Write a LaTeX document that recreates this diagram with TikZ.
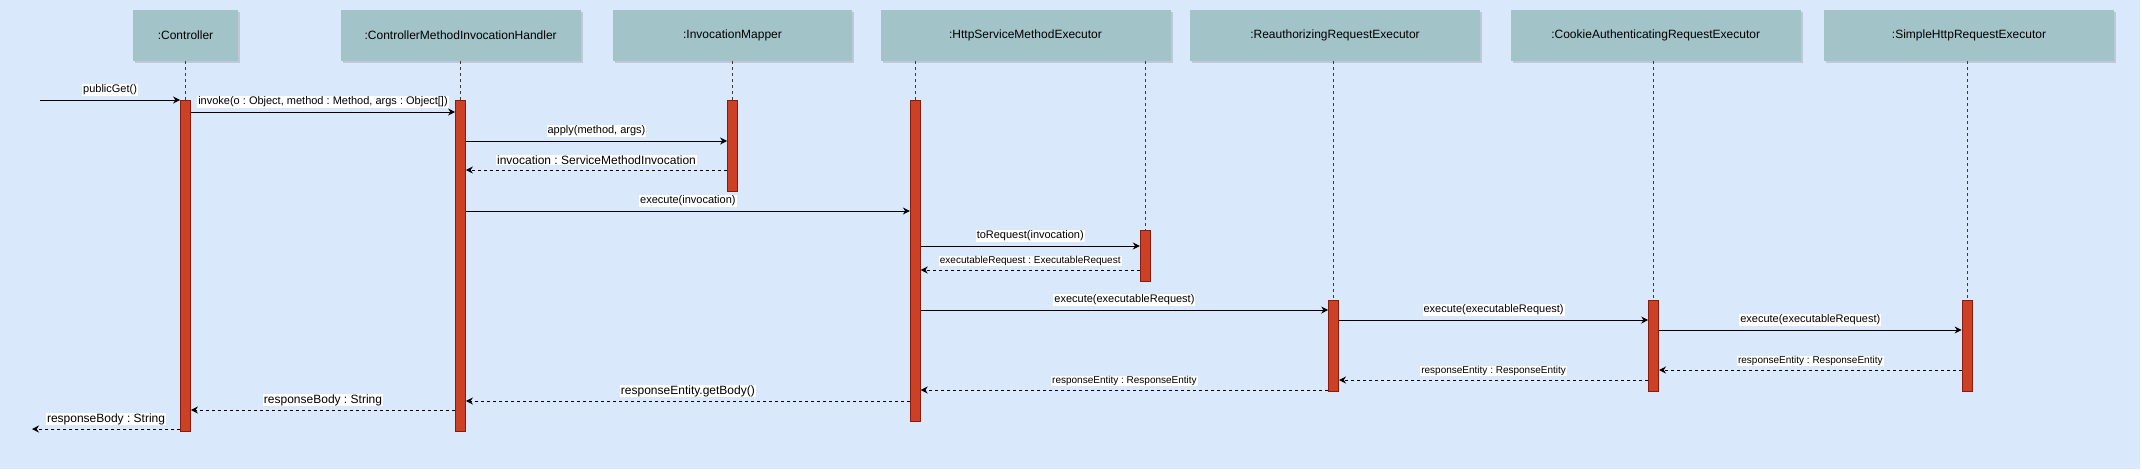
\documentclass[tikz,border=0pt]{standalone}
\usepackage{fontspec}
\setmainfont{Liberation Sans}
\usepackage{tikz}
\usetikzlibrary{arrows.meta,shadows}
\definecolor{canvas}{RGB}{218,232,252}
\definecolor{header}{RGB}{162,196,201}
\definecolor{activ}{RGB}{204,65,37}
\definecolor{activedge}{RGB}{135,28,12}
\definecolor{lifegray}{RGB}{60,60,60}
\frenchspacing

\begin{document}
\begin{tikzpicture}[x=1pt, y=-1pt,
  head/.style={fill=header, minimum height=51pt, inner sep=0pt, font=\fontsize{12}{14}\selectfont,
    drop shadow={shadow xshift=2pt, shadow yshift=-2pt, opacity=0.3, fill=gray}},
  act/.style={fill=activ, draw=activedge, line width=0.8pt, minimum width=10pt, inner sep=0pt},
  lifeline/.style={draw=lifegray, line width=0.9pt, dash pattern=on 3pt off 3pt},
  call/.style={-{Stealth[length=7pt, width=7pt]}, line width=0.9pt},
  ret/.style={call, dash pattern=on 3pt off 3pt},
  lbl/.style={fill=white, inner xsep=1pt, inner ysep=0.8pt, font=\fontsize{11}{13}\selectfont, yshift=10pt},
  lblsm/.style={lbl, font=\fontsize{10}{12}\selectfont, yshift=-1pt},
  lblbig/.style={lbl, font=\fontsize{12}{14}\selectfont}]
\useasboundingbox (0,0) rectangle (2142,475);
\fill[canvas] (0,0) rectangle (2140,469);
%% ---- participants ----
\node[head, minimum width=105pt] (ctl)    at (185.5,35.5)  {:Controller};
\node[head, minimum width=240pt] (cmih)   at (460.7,35.5)  {:ControllerMethodInvocationHandler};
\node[head, minimum width=239pt] (mapper) at (732.5,35.5)  {:InvocationMapper};
\node[head, minimum width=290pt] (hsme)   at (1025.5,35.5) {:HttpServiceMethodExecutor};
\node[head, minimum width=290pt] (reauth) at (1335,35.5)   {:ReauthorizingRequestExecutor};
\node[head, minimum width=290pt] (cookie) at (1655.7,35.5) {:CookieAuthenticatingRequestExecutor};
\node[head, minimum width=290pt] (simple) at (1969,35.5)   {:SimpleHttpRequestExecutor};
%% ---- activations ----
\node[act, minimum height=331pt] (aCtl)    at (185.5,265.5)  {};
\node[act, minimum height=331pt] (aCmih)   at (460.5,265.5)  {};
\node[act, minimum height=91pt]  (aMap)    at (732.5,145.5)  {};
\node[act, minimum height=321pt] (aHsme)   at (915.3,260.5)  {};
\node[act, minimum height=51pt]  (aReq)    at (1145.2,255.5) {};
\node[act, minimum height=91pt]  (aReauth) at (1333.6,345.5) {};
\node[act, minimum height=91pt]  (aCookie) at (1653.6,345.5) {};
\node[act, minimum height=91pt]  (aSimple) at (1967,345.5)   {};
%% ---- lifelines ----
\draw[lifeline] (aCtl.north |- ctl.south) -- (aCtl.north);
\draw[lifeline] (aCmih.north |- cmih.south) -- (aCmih.north);
\draw[lifeline] (aMap.north |- mapper.south) -- (aMap.north);
\draw[lifeline] (aHsme.north |- hsme.south) -- (aHsme.north);
\draw[lifeline] (aReq.north |- hsme.south) -- (aReq.north);
\draw[lifeline] (aReauth.north |- reauth.south) -- (aReauth.north);
\draw[lifeline] (aCookie.north |- cookie.south) -- (aCookie.north);
\draw[lifeline] (aSimple.north |- simple.south) -- (aSimple.north);
%% ---- calls ----
\coordinate (caller) at (40,100);
\draw[call] (caller) -- (aCtl.west |- caller) node[lbl, midway] {publicGet()};
\draw[call] (aCtl.east |- 0,112) -- (aCmih.west |- 0,112)
  node[lbl, midway] {invoke(o : Object, method : Method, args : Object[])};
\draw[call] (aCmih.east |- 0,141) -- (aMap.west |- 0,141) node[lbl, midway] {apply(method, args)};
\draw[ret] (aMap.west |- 0,170) -- (aCmih.east |- 0,170)
  node[lblbig, midway] {invocation : ServiceMethodInvocation};
\draw[call] (aCmih.east |- 0,211) -- (aHsme.west |- 0,211) node[lbl, midway] {execute(invocation)};
\draw[call] (aHsme.east |- 0,246) -- (aReq.west |- 0,246) node[lbl, midway] {toRequest(invocation)};
\draw[ret] (aReq.west |- 0,270) -- (aHsme.east |- 0,270)
  node[lblsm, midway] {executableRequest : ExecutableRequest};
\draw[call] (aHsme.east |- 0,310) -- (aReauth.west |- 0,310) node[lbl, midway] {execute(executableRequest)};
\draw[call] (aReauth.east |- 0,320) -- (aCookie.west |- 0,320) node[lbl, midway] {execute(executableRequest)};
\draw[call] (aCookie.east |- 0,330) -- (aSimple.west |- 0,330) node[lbl, midway] {execute(executableRequest)};
%% ---- returns ----
\draw[ret] (aSimple.west |- 0,370) -- (aCookie.east |- 0,370)
  node[lblsm, midway] {responseEntity : ResponseEntity};
\draw[ret] (aCookie.west |- 0,380) -- (aReauth.east |- 0,380)
  node[lblsm, midway] {responseEntity : ResponseEntity};
\draw[ret] (aReauth.west |- 0,390) -- (aHsme.east |- 0,390)
  node[lblsm, midway] {responseEntity : ResponseEntity};
\draw[ret] (aHsme.west |- 0,401) -- (aCmih.east |- 0,401) node[lblbig, midway] {responseEntity.getBody()};
\draw[ret] (aCmih.west |- 0,410) -- (aCtl.east |- 0,410) node[lblbig, midway] {responseBody : String};
\coordinate (callerret) at (32,429);
\draw[ret] (aCtl.west |- callerret) -- (callerret) node[lblbig, midway] {responseBody : String};
\end{tikzpicture}
\end{document}
